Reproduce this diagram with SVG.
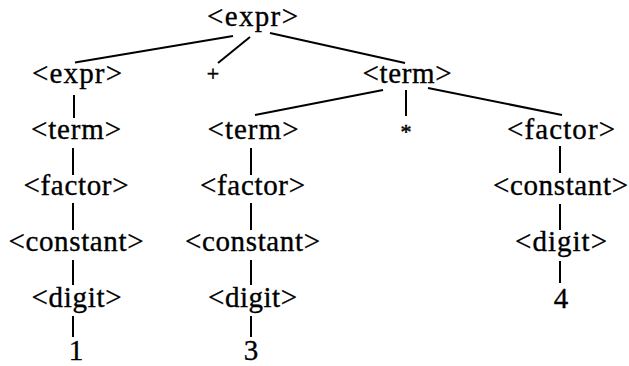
<svg xmlns="http://www.w3.org/2000/svg" width="629" height="366" viewBox="0 0 629 366">
  <style>
    .n { font-family: "Liberation Serif", "Times New Roman", serif; font-size: 29px; fill: #000; stroke: #000; stroke-width: 0.35; text-anchor: middle; }
    .op { font-family: "Liberation Serif", "Times New Roman", serif; font-size: 22px; fill: #000; stroke: #000; stroke-width: 0.5; text-anchor: middle; }
    .edge { stroke: #000; stroke-width: 2; fill: none; stroke-linecap: butt; }
  </style>
  <rect width="629" height="366" fill="#fff"/>

  <!-- tree edges -->
  <g id="edges">
    <line class="edge" x1="233" y1="36" x2="75" y2="62.5"/>
    <line class="edge" x1="250" y1="37" x2="218" y2="63"/>
    <line class="edge" x1="270" y1="33" x2="405" y2="63"/>
    <line class="edge" x1="383" y1="90" x2="255" y2="115"/>
    <line class="edge" x1="406" y1="90" x2="406" y2="116"/>
    <line class="edge" x1="428" y1="88" x2="562" y2="115"/>
    <!-- left column -->
    <line class="edge" x1="74" y1="95" x2="74" y2="118"/>
    <line class="edge" x1="73" y1="148" x2="73" y2="175"/>
    <line class="edge" x1="73" y1="203" x2="73" y2="230"/>
    <line class="edge" x1="73" y1="260" x2="73" y2="285"/>
    <line class="edge" x1="73" y1="316" x2="73" y2="337"/>
    <!-- middle column -->
    <line class="edge" x1="251" y1="148" x2="251" y2="175"/>
    <line class="edge" x1="251" y1="203" x2="251" y2="230"/>
    <line class="edge" x1="251" y1="260" x2="251" y2="285"/>
    <line class="edge" x1="251" y1="316" x2="251" y2="337"/>
    <!-- right column -->
    <line class="edge" x1="560" y1="146" x2="560" y2="173"/>
    <line class="edge" x1="560" y1="204" x2="560" y2="230"/>
    <line class="edge" x1="560" y1="261" x2="560" y2="283"/>
  </g>

  <g id="root"><text class="n" x="252.5" y="26" textLength="91" lengthAdjust="spacing">&lt;expr&gt;</text></g>

  <g id="expr-left"><text class="n" x="77" y="83" textLength="90" lengthAdjust="spacing">&lt;expr&gt;</text></g>
  <g id="plus"><text class="op" x="213" y="81">+</text></g>
  <g id="term-right"><text class="n" x="407" y="83" textLength="89" lengthAdjust="spacing">&lt;term&gt;</text></g>

  <g id="term-l"><text class="n" x="76" y="139" textLength="90" lengthAdjust="spacing">&lt;term&gt;</text></g>
  <g id="term-m"><text class="n" x="253" y="139" textLength="91" lengthAdjust="spacing">&lt;term&gt;</text></g>
  <g id="times"><text class="op" x="406" y="139">*</text></g>
  <g id="factor-r"><text class="n" x="561" y="139" textLength="108" lengthAdjust="spacing">&lt;factor&gt;</text></g>

  <g id="factor-l"><text class="n" x="76" y="195" textLength="105" lengthAdjust="spacing">&lt;factor&gt;</text></g>
  <g id="factor-m"><text class="n" x="252.5" y="195" textLength="105" lengthAdjust="spacing">&lt;factor&gt;</text></g>
  <g id="constant-r"><text class="n" x="560.5" y="195" textLength="135" lengthAdjust="spacing">&lt;constant&gt;</text></g>

  <g id="constant-l"><text class="n" x="76" y="251" textLength="135" lengthAdjust="spacing">&lt;constant&gt;</text></g>
  <g id="constant-m"><text class="n" x="252.5" y="251" textLength="135" lengthAdjust="spacing">&lt;constant&gt;</text></g>
  <g id="digit-r"><text class="n" x="561" y="251" textLength="92" lengthAdjust="spacing">&lt;digit&gt;</text></g>

  <g id="digit-l"><text class="n" x="76.5" y="307" textLength="90" lengthAdjust="spacing">&lt;digit&gt;</text></g>
  <g id="digit-m"><text class="n" x="252.5" y="307" textLength="89" lengthAdjust="spacing">&lt;digit&gt;</text></g>
  <g id="four"><text class="n" x="561" y="308">4</text></g>

  <g id="one"><text class="n" x="76" y="360">1</text></g>
  <g id="three"><text class="n" x="251" y="360">3</text></g>
</svg>
